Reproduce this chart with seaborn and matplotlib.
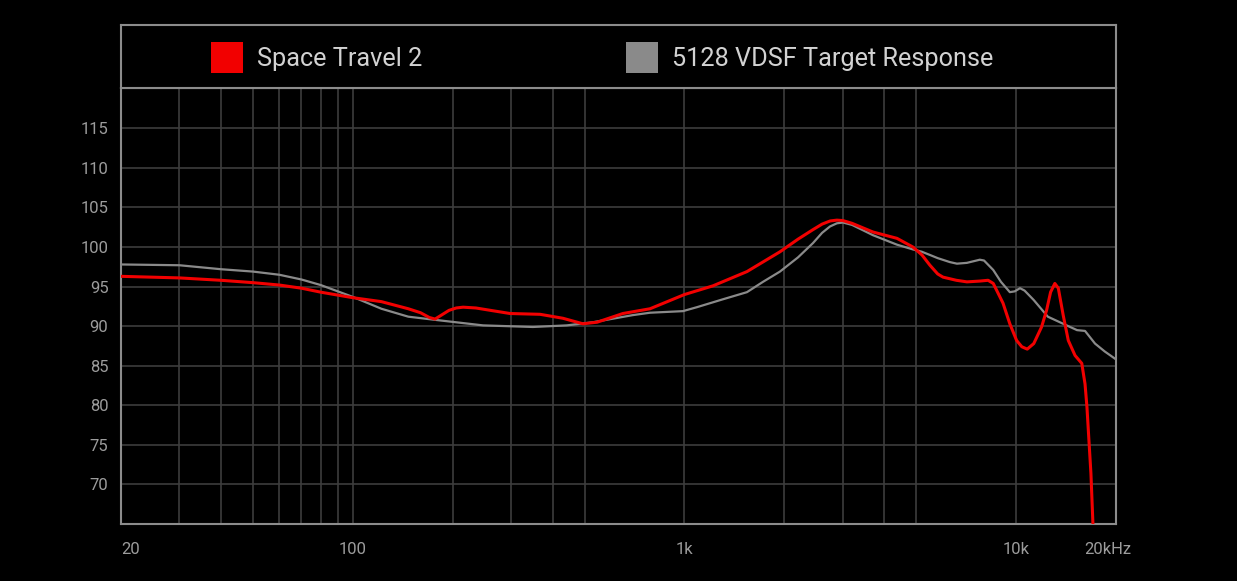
import pandas as pd
import matplotlib
matplotlib.use("Agg")
import matplotlib.pyplot as plt
import matplotlib.transforms as mtransforms
from matplotlib.patches import Rectangle
from matplotlib.ticker import NullLocator, FixedLocator, FixedFormatter
import seaborn as sns

# Frequency response values
st2_freq = [20, 30, 40, 50, 60, 70, 80, 100, 122, 147, 160, 170, 177, 185, 195,
            205, 215, 235, 260, 298, 367, 430, 494, 545, 652, 787, 1000, 1219,
            1543, 1940, 2200, 2440, 2600, 2750, 2880, 3000, 3200, 3700, 4372,
            4884, 5200, 5496, 5800, 6016, 6600, 7106, 7770, 8230, 8530, 9130,
            9570, 10030, 10400, 10800, 11300, 11930, 12350, 12700, 13080, 13400,
            13860, 14360, 15050, 15770, 16130, 16346, 16572, 16804, 17038, 17300]
st2_db = [96.3, 96.1, 95.8, 95.5, 95.2, 94.8, 94.3, 93.6, 93.1, 92.2, 91.7, 91.1,
          90.9, 91.4, 92.0, 92.3, 92.4, 92.3, 92.0, 91.6, 91.5, 91.0, 90.3,
          90.5, 91.6, 92.2, 94.0, 95.1, 96.9, 99.4, 101.0, 102.2, 102.9, 103.3,
          103.4, 103.35, 103.0, 101.9, 101.1, 100.0, 99.0, 97.7, 96.6, 96.2,
          95.8, 95.6, 95.7, 95.8, 95.4, 92.9, 90.3, 88.2, 87.4, 87.1, 87.8,
          89.9, 92.0, 94.3, 95.4, 94.8, 91.4, 88.2, 86.3, 85.3, 82.7, 79.8,
          75.6, 71.4, 65.1, 60.0]

target_freq = [20, 30, 40, 50, 60, 70, 80, 100, 122, 147, 177, 247, 349, 442, 530,
               699, 787, 989, 1090, 1306, 1543, 1724, 1940, 2200, 2440, 2600,
               2746, 2880, 3004, 3200, 3500, 3700, 4372, 4884, 5200, 5496, 5800,
               6310, 6630, 7100, 7770, 8000, 8530, 9000, 9570, 9900, 10270,
               10600, 11300, 12460, 14200, 15260, 16130, 17290, 18500, 19850,
               20000]
target_db = [97.8, 97.7, 97.2, 96.9, 96.5, 95.9, 95.2, 93.7, 92.2, 91.2, 90.8,
             90.1, 89.9, 90.1, 90.5, 91.4, 91.7, 91.9, 92.4, 93.4, 94.3, 95.6,
             96.9, 98.7, 100.5, 101.8, 102.6, 103.0, 103.1, 102.8, 102.0, 101.5,
             100.3, 99.7, 99.4, 99.0, 98.6, 98.1, 97.9, 98.0, 98.4, 98.3, 97.1,
             95.6, 94.3, 94.4, 94.8, 94.5, 93.3, 91.2, 90.1, 89.5, 89.4, 87.8,
             86.8, 85.9, 85.8]

series_names = ["Space Travel 2", "5128 VDSF Target Response"]
series_colors = ["#f20000", "#8a8a8a"]

y_ticks = [70, 75, 80, 85, 90, 95, 100, 105, 110, 115]
grid_freqs = [20, 30, 40, 50, 60, 70, 80, 90, 100, 200, 300, 400, 500,
              1000, 2000, 3000, 4000, 5000, 10000, 20000]
x_labels = {20: "20", 100: "100", 1000: "1k", 10000: "10k", 20000: "20kHz"}

df = pd.concat([
    pd.DataFrame({"freq": st2_freq, "db": st2_db, "series": series_names[0]}),
    pd.DataFrame({"freq": target_freq, "db": target_db, "series": series_names[1]}),
])

sns.set_theme(style="dark")
plt.rcParams["font.family"] = ["Roboto", "DejaVu Sans"]

W, H = 1237, 581
fig = plt.figure(figsize=(W / 100, H / 100), dpi=100, facecolor="black")

# plot area and legend box positions in pixels
left, right, top, bottom, leg_top = 121, 1116, 88, 524, 25
ax = fig.add_axes([left / W, 1 - bottom / H, (right - left) / W, (bottom - top) / H])
leg_ax = fig.add_axes([left / W, 1 - top / H, (right - left) / W, (top - leg_top) / H])

frame_color = "#8c8c8c"
grid_color = "#3d3d3d"
tick_color = "#9c9c9c"

ax.set_facecolor("black")
sns.lineplot(data=df[df.series == series_names[1]], x="freq", y="db",
             color=series_colors[1], linewidth=1.6, estimator=None, sort=False,
             ax=ax, zorder=3)
sns.lineplot(data=df[df.series == series_names[0]], x="freq", y="db",
             color=series_colors[0], linewidth=2.2, estimator=None, sort=False,
             ax=ax, zorder=4)

ax.set_xscale("log")
ax.set_xlim(20, 20000)
ax.set_ylim(65, 120.1)
ax.xaxis.set_major_locator(FixedLocator(grid_freqs))
ax.xaxis.set_major_formatter(FixedFormatter([x_labels.get(f, "") for f in grid_freqs]))
ax.xaxis.set_minor_locator(NullLocator())
ax.set_yticks(y_ticks)
ax.set_xlabel("")
ax.set_ylabel("")
ax.grid(True, color=grid_color, linewidth=1.2)
ax.tick_params(axis="x", length=0, pad=13, labelsize=12, labelcolor=tick_color)
ax.tick_params(axis="y", length=0, pad=9, labelsize=12, labelcolor=tick_color)
xlabels = ax.get_xticklabels()
xlabels[0].set_horizontalalignment("left")
# nudge the last label a little to the left, like the reference
xlabels[-1].set_transform(xlabels[-1].get_transform()
                          + mtransforms.ScaledTranslation(-8 / 100, 0, fig.dpi_scale_trans))
for s in ax.spines.values():
    s.set_visible(True)
    s.set_color(frame_color)
    s.set_linewidth(1.5)

# legend box
leg_ax.set_facecolor("black")
leg_ax.set_xlim(0, 1)
leg_ax.set_ylim(0, 1)
leg_ax.set_xticks([])
leg_ax.set_yticks([])
for s in leg_ax.spines.values():
    s.set_visible(True)
    s.set_color(frame_color)
    s.set_linewidth(1.5)

span_w, span_h = right - left, top - leg_top
for name, color, sq_x in zip(series_names, series_colors, [211, 626]):
    x0 = (sq_x - left) / span_w
    leg_ax.add_patch(Rectangle((x0, (top - 73) / span_h), 32 / span_w, 31 / span_h,
                               facecolor=color, edgecolor="none"))
    leg_ax.text(x0 + 46 / span_w, (top - 59) / span_h, name, color="#d2d2d2",
                fontsize=18.2, va="center", ha="left")

fig.savefig("out.png", dpi=100, facecolor="black")
